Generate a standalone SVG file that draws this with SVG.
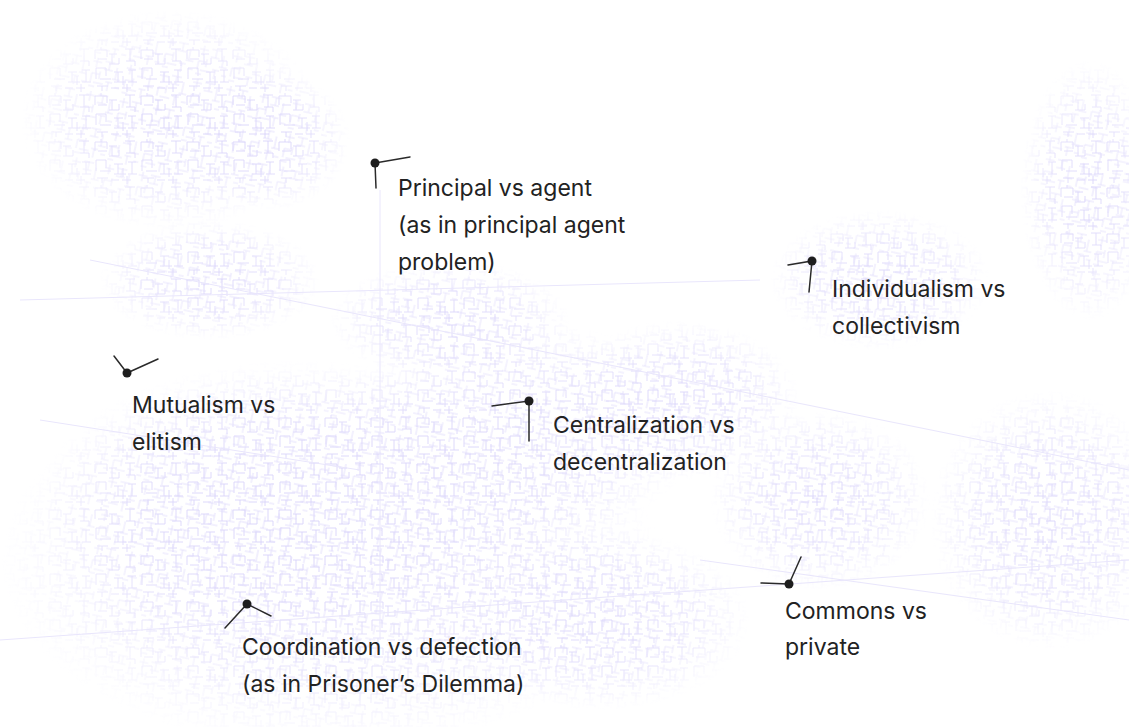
<svg xmlns="http://www.w3.org/2000/svg" width="1129" height="727" viewBox="0 0 1129 727">
<style>
.lbl{font-family:Inter,"Noto Sans","Liberation Sans",sans-serif;font-size:23px;fill:#222222}
.ln{stroke:#2a2a2a;stroke-width:1.5;fill:none;stroke-linecap:round}
.dot{fill:#1e1e1e}
.bgl{stroke:#e9e6fc;stroke-width:1;fill:none}
</style>
<defs>
<pattern id="fr" width="46" height="46" patternUnits="userSpaceOnUse">
<path d="M3 4h12M3 4v9M15 4v7M9 4v-3M6 13h9M20 8v10M17 8h8M17 18h10M27 18v-6M33 3h10M38 3v12M34 15h9M43 15v5M4 22h10M4 22v11M14 22v8M8 33h11M22 26h9M26 26v10M22 36h12M31 30v9M36 24h8M40 24v12M36 36h9M5 40h11M10 40v5M19 42h8M30 42h9M35 38v8" stroke="#d8d2fa" stroke-width="0.9" fill="none"/>
</pattern>
<pattern id="fr2" width="34" height="34" patternUnits="userSpaceOnUse" patternTransform="rotate(12)">
<path d="M2 6h9M6 2v10M14 4h10M19 4v8M14 12h9M27 8v12M24 20h8M3 18h8M3 18v9M11 15v8M6 27h10M18 24h7M21 24v9M28 28h5M2 31h6" stroke="#ddd8fb" stroke-width="0.8" fill="none"/>
</pattern>
<radialGradient id="fade">
<stop offset="0" stop-color="#fff" stop-opacity="1"/>
<stop offset="0.6" stop-color="#fff" stop-opacity="0.7"/>
<stop offset="1" stop-color="#fff" stop-opacity="0"/>
</radialGradient>
<mask id="m1">
<ellipse cx="170" cy="120" rx="150" ry="110" fill="url(#fade)"/>
<ellipse cx="270" cy="140" rx="80" ry="70" fill="url(#fade)"/>
<ellipse cx="210" cy="280" rx="110" ry="60" fill="url(#fade)"/>
<ellipse cx="330" cy="560" rx="330" ry="190" fill="url(#fade)"/>
<ellipse cx="300" cy="500" rx="260" ry="140" fill="url(#fade)"/>
<ellipse cx="520" cy="430" rx="180" ry="110" fill="url(#fade)"/>
<ellipse cx="680" cy="400" rx="120" ry="80" fill="url(#fade)"/>
<ellipse cx="880" cy="280" rx="110" ry="70" fill="url(#fade)"/>
<ellipse cx="820" cy="500" rx="110" ry="90" fill="url(#fade)"/>
<ellipse cx="1050" cy="520" rx="120" ry="130" fill="url(#fade)"/>
<ellipse cx="1090" cy="190" rx="70" ry="130" fill="url(#fade)"/>
<ellipse cx="600" cy="620" rx="150" ry="90" fill="url(#fade)"/>
<ellipse cx="450" cy="320" rx="120" ry="60" fill="url(#fade)"/>
</mask>
</defs>
<rect width="1129" height="727" fill="#ffffff"/>
<g id="background">
<g mask="url(#m1)">
<rect width="1129" height="727" fill="url(#fr)"/>
<rect width="1129" height="727" fill="url(#fr2)"/>
</g>
<path class="bgl" d="M20 300L760 280M90 260L1129 470M0 640L1129 560M380 190V640M40 420L360 470M700 560L1129 620"/>
</g>
<g id="connectors">
<g id="c-principal"><path class="ln" d="M410 157L375 163M375 163L376 188"/><circle class="dot" cx="375" cy="163" r="4.5"/></g>
<g id="c-mutualism"><path class="ln" d="M114 356L127 373L158 359"/><circle class="dot" cx="127" cy="373" r="4.5"/></g>
<g id="c-central"><path class="ln" d="M492 406L529 401L529 441"/><circle class="dot" cx="529" cy="401" r="4.5"/></g>
<g id="c-indiv"><path class="ln" d="M788 265L812 261L809 292"/><circle class="dot" cx="812" cy="261" r="4.5"/></g>
<g id="c-coord"><path class="ln" d="M225 628L247 604L271 616"/><circle class="dot" cx="247" cy="604" r="4.5"/></g>
<g id="c-commons"><path class="ln" d="M801 557L789 584L761 583"/><circle class="dot" cx="789" cy="584" r="4.5"/></g>
</g>
<g id="n-principal"><text class="lbl" x="398" y="196">Principal vs agent</text><text class="lbl" x="398" y="233">(as in principal agent</text><text class="lbl" x="398" y="270">problem)</text></g>
<g id="n-mutualism"><text class="lbl" x="132" y="413">Mutualism vs</text><text class="lbl" x="132" y="450">elitism</text></g>
<g id="n-central"><text class="lbl" x="553" y="433">Centralization vs</text><text class="lbl" x="553" y="470">decentralization</text></g>
<g id="n-indiv"><text class="lbl" x="832" y="297">Individualism vs</text><text class="lbl" x="832" y="334">collectivism</text></g>
<g id="n-coord"><text class="lbl" x="242" y="655">Coordination vs defection</text><text class="lbl" x="242" y="692">(as in Prisoner’s Dilemma)</text></g>
<g id="n-commons"><text class="lbl" x="785" y="619">Commons vs</text><text class="lbl" x="785" y="655">private</text></g>
</svg>
